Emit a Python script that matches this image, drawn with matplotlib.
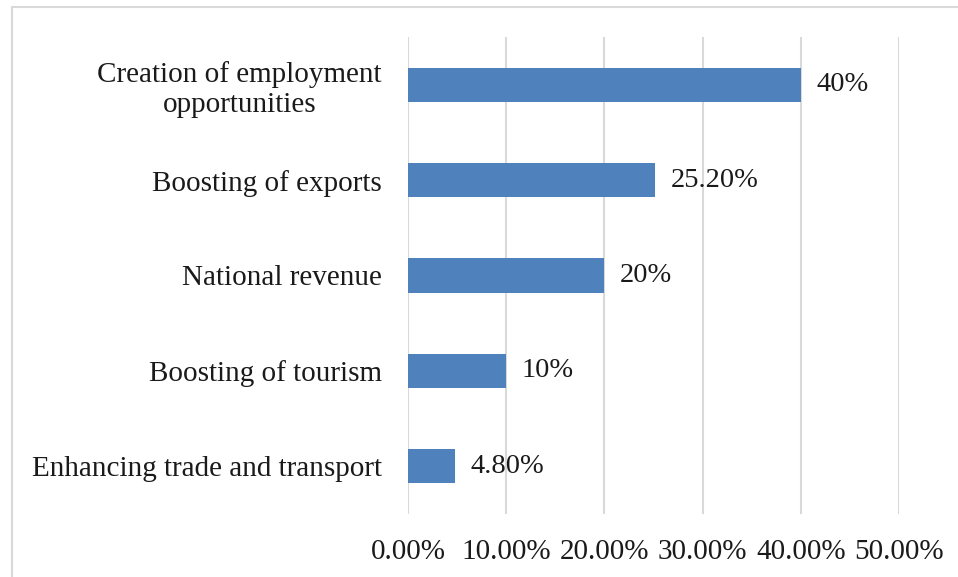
import matplotlib.pyplot as plt
from matplotlib.patches import Rectangle
from matplotlib.ticker import FuncFormatter

plt.rcParams["font.family"] = ["Liberation Serif", "DejaVu Serif"]

categories = [
    "Enhancing trade and transport",
    "Boosting of tourism",
    "National revenue",
    "Boosting of exports",
    "Creation of employment\nopportunities",
]
values = [4.8, 10, 20, 25.2, 40]
value_labels = ["4.80%", "10%", "20%", "25.20%", "40%"]

fig = plt.figure(figsize=(9.58, 5.77), dpi=100)
ax = fig.add_axes([0.4259, 0.1092, 0.5125, 0.8267])

# light frame around the chart area
fig.patches.append(Rectangle((12 / 958, -0.05), 1.0, 1.05 - 7 / 577,
                             transform=fig.transFigure, fill=False,
                             edgecolor="#D9D9D9", linewidth=1.5))

y = range(len(categories))
bars = ax.barh(y, values, height=0.36, color="#4F81BD", zorder=3)

for bar, lab in zip(bars, value_labels):
    ax.annotate(lab, (bar.get_width(), bar.get_y() + bar.get_height() / 2),
                xytext=(11, 0), textcoords="offset points",
                va="center", ha="left", fontsize=20.5, color="#1a1a1a")

ax.set_xlim(0, 50)
ax.set_ylim(-0.5, len(categories) - 0.5)
ax.set_xticks([0, 10, 20, 30, 40, 50])
ax.xaxis.set_major_formatter(FuncFormatter(lambda v, p: f"{v:.2f}%"))
ax.set_yticks(list(y))
ax.set_yticklabels(categories, fontsize=21, color="#1a1a1a", ha="right",
                   multialignment="center", linespacing=1.2)
ax.tick_params(axis="x", labelsize=21, labelcolor="#1a1a1a", length=0, pad=18)
ax.tick_params(axis="y", length=0, pad=19)

ax.grid(axis="x", color="#D9D9D9", linewidth=1.5, zorder=0)
for s in ax.spines.values():
    s.set_visible(False)

fig.savefig("out.png", dpi=100)
